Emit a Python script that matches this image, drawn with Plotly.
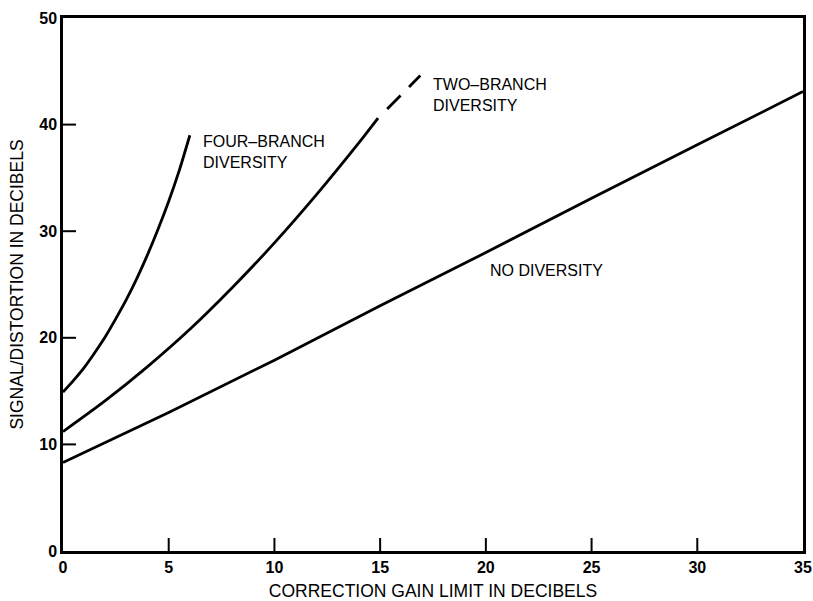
import plotly.graph_objects as go

# Signal/distortion versus correction gain limit (dB)
no_div_x = [0, 5, 10, 15, 20, 25, 30, 35]
no_div_y = [8.3, 13.0, 17.9, 23.0, 28.0, 33.1, 38.1, 43.1]

two_br_x = [0, 2, 4, 6, 8, 10, 12, 14, 14.9]
two_br_y = [11.2, 14.1, 17.3, 20.8, 24.7, 28.9, 33.45, 38.3, 40.6]
# extrapolated part of the two-branch curve (dashed)
two_br_ext_x = [14.9, 15.9, 16.9]
two_br_ext_y = [40.6, 42.6, 44.6]

four_br_x = [0, 0.5, 1, 1.5, 2, 2.5, 3, 3.5, 4, 4.5, 5, 5.5, 6]
four_br_y = [14.9, 16.0, 17.2, 18.6, 20.1, 21.8, 23.6, 25.6, 27.8, 30.2,
             32.8, 35.7, 39.0]

x_ticks = [0, 5, 10, 15, 20, 25, 30, 35]
y_ticks = [0, 10, 20, 30, 40, 50]

FONT = "Liberation Sans, Arial, Helvetica, sans-serif"
line = dict(color="black", width=2.8)

fig = go.Figure()
fig.add_trace(go.Scatter(x=no_div_x, y=no_div_y, mode="lines", line=line))
fig.add_trace(go.Scatter(x=two_br_x, y=two_br_y, mode="lines",
                         line=dict(line, shape="spline", smoothing=0.8)))
fig.add_trace(go.Scatter(x=two_br_ext_x, y=two_br_ext_y, mode="lines",
                         line=dict(color="black", width=2.8,
                                   dash="0px,13px,19px,12px,19px,30px")))
fig.add_trace(go.Scatter(x=four_br_x, y=four_br_y, mode="lines",
                         line=dict(line, shape="spline", smoothing=0.6)))

# curve labels
label_font = dict(family=FONT, size=16, color="black")
curve_labels = [
    (6.56, 37.4, "FOUR–BRANCH<br>DIVERSITY"),
    (17.44, 42.8, "TWO–BRANCH<br>DIVERSITY"),
    (20.17, 26.3, "NO DIVERSITY"),
]
for lx, ly, txt in curve_labels:
    fig.add_annotation(x=lx, y=ly, text=txt, showarrow=False,
                       xanchor="left", yanchor="middle", align="left",
                       font=label_font, borderpad=0)

# inward tick marks on the bottom and left axes
tick_style = dict(color="black", width=2)
for v in x_ticks[1:-1]:
    fig.add_shape(type="line", xref="x", yref="y", x0=v, x1=v,
                  ysizemode="pixel", yanchor=0, y0=0, y1=13,
                  line=tick_style)
for v in y_ticks[1:-1]:
    fig.add_shape(type="line", xref="x", yref="y", y0=v, y1=v,
                  xsizemode="pixel", xanchor=0, x0=0, x1=13,
                  line=tick_style)

tick_font = dict(family=FONT, size=16, color="black", weight="bold")
title_font = dict(family=FONT, size=17.5, color="black")

fig.update_layout(
    width=813, height=601,
    margin=dict(l=63, r=10, t=18, b=50, autoexpand=False),
    paper_bgcolor="white", plot_bgcolor="white",
    showlegend=False,
    xaxis=dict(
        range=[0, 35], tickmode="array", tickvals=x_ticks,
        showline=True, linecolor="black", linewidth=2.5, mirror=True,
        ticks="", showgrid=False, zeroline=False, tickfont=tick_font,
        automargin=False,
        title=dict(text="CORRECTION GAIN LIMIT IN DECIBELS",
                   font=title_font, standoff=19),
    ),
    yaxis=dict(
        range=[0, 50], tickmode="array", tickvals=y_ticks,
        showline=True, linecolor="black", linewidth=2.5, mirror=True,
        ticks="", showgrid=False, zeroline=False, tickfont=tick_font,
        automargin=False,
        title=dict(text="SIGNAL/DISTORTION IN DECIBELS",
                   font=title_font, standoff=12),
    ),
)

fig.write_html("out.html")
